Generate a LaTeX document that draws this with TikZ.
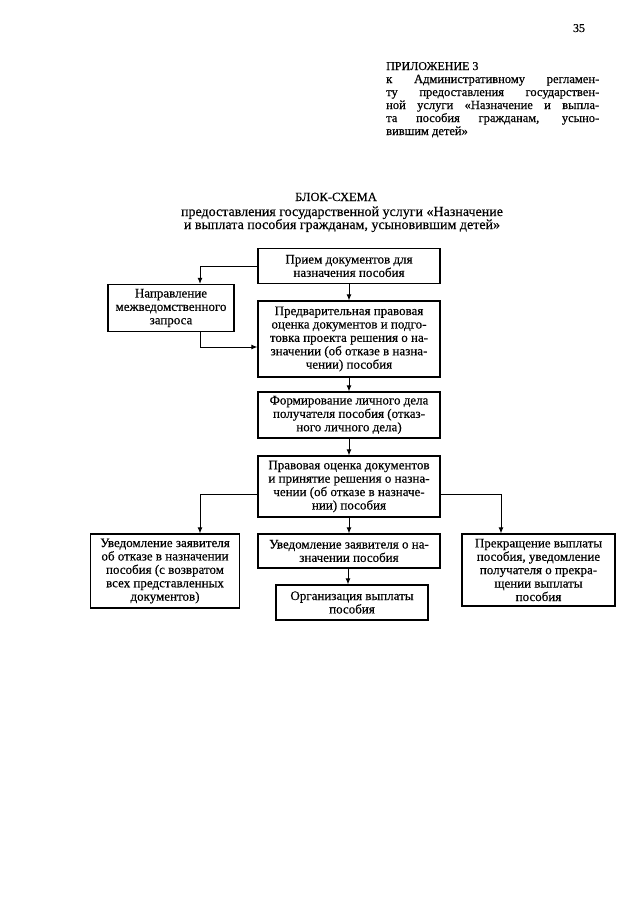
\documentclass[tikz,border=0pt]{standalone}
\usepackage{fontspec}
\setmainfont{Liberation Serif}[FakeBold=0.4]
\usetikzlibrary{arrows.meta}
\begin{document}
\begin{tikzpicture}[x=1pt,y=-1pt,
  box/.style={draw, line width=1.2pt, align=center, inner sep=0pt,
    font=\fontsize{13}{13.4}\selectfont},
  arr/.style={-{Latex[length=6pt,width=5pt]}, line width=1pt},
  hdr/.style={anchor=base west, inner sep=0pt, font=\fontsize{12.5}{12.5}\selectfont}]
\useasboundingbox (0,0) rectangle (640,905);
\fill[white] (0,0) rectangle (640,905);

% page number
\node[anchor=base, inner sep=0pt, font=\fontsize{12}{12}\selectfont] (pg) at (579,32) {35};

% appendix header
\node[hdr, font=\fontsize{12}{12}\selectfont] (h0) at (386,70) {ПРИЛОЖЕНИЕ 3};
\node[hdr] (h1) at (386,83) {\makebox[213pt][s]{к Административному регламен-}};
\node[hdr] (h2) at (386,96) {\makebox[213pt][s]{ту предоставления государствен-}};
\node[hdr] (h3) at (386,109) {\makebox[213pt][s]{ной услуги «Назначение и выпла-}};
\node[hdr] (h4) at (386,122) {\makebox[213pt][s]{та пособия гражданам, усыно-}};
\node[hdr] (h5) at (386,135) {вившим детей»};

% title
\node[anchor=base, inner sep=0pt, font=\fontsize{12.5}{12.5}\selectfont] (t0) at (336,201) {БЛОК-СХЕМА};
\node[anchor=base, inner sep=0pt, font=\fontsize{14}{14}\selectfont] (t1) at (342,216) {предоставления государственной услуги «Назначение};
\node[anchor=base, inner sep=0pt, font=\fontsize{14}{14}\selectfont] (t2) at (342,229) {и выплата пособия гражданам, усыновившим детей»};

% boxes
\node[box, minimum width=182pt, minimum height=35pt] (b1) at (349,266)
  {Прием документов для\\назначения пособия};
\node[box, minimum width=126pt, minimum height=47pt] (nap) at (171,308)
  {Направление\\межведомственного\\запроса};
\node[box, minimum width=182pt, minimum height=76pt] (b2) at (349,339)
  {Предварительная правовая\\оценка документов и подго-\\товка проекта решения о на-\\значении (об отказе в назна-\\чении) пособия};
\node[box, minimum width=182pt, minimum height=46pt] (b3) at (349,415)
  {Формирование личного дела\\получателя пособия (отказ-\\ного личного дела)};
\node[box, minimum width=182pt, minimum height=61pt] (b4) at (349,486.5)
  {Правовая оценка документов\\и принятие решения о назна-\\чении (об отказе в назначе-\\нии) пособия};
\node[box, minimum width=149pt, minimum height=74pt] (b5) at (165,571)
  {Уведомление заявителя\\об отказе в назначении\\пособия (с возвратом\\всех представленных\\документов)};
\node[box, minimum width=182pt, minimum height=34pt] (b6) at (349,551)
  {Уведомление заявителя о на-\\значении пособия};
\node[box, minimum width=152pt, minimum height=35pt] (b7) at (352,602.5)
  {Организация выплаты\\пособия};
\node[box, minimum width=153pt, minimum height=72pt] (b8) at (538.5,570)
  {Прекращение выплаты\\пособия, уведомление\\получателя о прекра-\\щении выплаты\\пособия};

% helper coordinates
\coordinate (xl) at (200,0);
\coordinate (xr) at (501,0);
\coordinate (ya) at (0,347);
\coordinate (yb) at (0,494);
\coordinate (xm) at (348,0);

% connectors
\draw[arr] (b1.west) -| (nap.north -| xl);
\draw[arr] (b1.south) -- (b2.north);
\draw[arr] (nap.south -| xl) |- (b2.west |- ya);
\draw[arr] (b2.south) -- (b3.north);
\draw[arr] (b3.south) -- (b4.north);
\draw[arr] (b4.west |- yb) -| (b5.north -| xl);
\draw[arr] (b4.east |- yb) -| (b8.north -| xr);
\draw[arr] (b4.south) -- (b4.south |- b6.north);
\draw[arr] (b6.south -| xm) -- (b7.north -| xm);
\end{tikzpicture}
\end{document}
